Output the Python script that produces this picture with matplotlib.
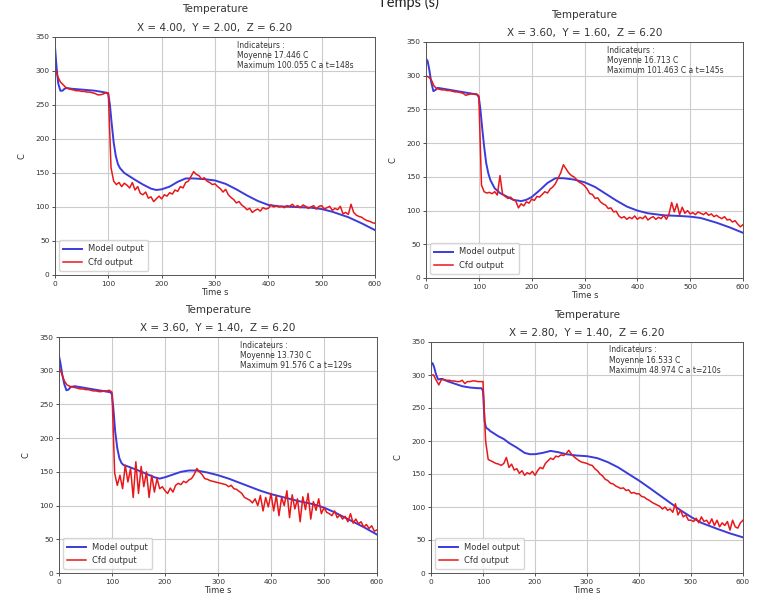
import matplotlib
matplotlib.use("Agg")

import matplotlib.pyplot as plt
import numpy as np


# -----------------------------
# Data
# -----------------------------
# model output sampling instants (s)
model_t = [0, 3, 6, 10, 14, 18, 22, 30, 45, 60,
           75, 90, 97, 100, 103, 106, 110, 114, 118, 122,
           130, 140, 150, 165, 180, 190, 200, 215, 230, 245,
           260, 280, 300, 320, 340, 360, 380, 400, 420, 450,
           480, 500, 520, 550, 575, 600]

# cfd output sampled every 5 s
cfd_t = np.arange(0, 601, 5)

model_1 = [335, 305, 282, 271, 271, 274, 275, 274, 273, 272,
           271, 269, 268, 266, 250, 225, 195, 175, 163, 157,
           150, 145, 140, 133, 127, 125, 126, 130, 137, 142,
           142, 141, 139, 134, 126, 117, 109, 103, 101, 100,
           99, 97, 93, 85, 76, 66]
model_2 = [325, 322, 310, 290, 277, 279, 282, 281, 279, 277,
           275, 273, 272, 268, 250, 225, 195, 170, 155, 145,
           133, 126, 122, 116, 114, 116, 120, 130, 141, 148,
           148, 146, 142, 135, 125, 115, 106, 100, 96, 93,
           92, 91, 89, 82, 75, 67]
model_3 = [322, 310, 295, 280, 271, 272, 276, 277, 275, 273,
           271, 269, 268, 265, 240, 210, 185, 170, 163, 160,
           158, 155, 152, 147, 142, 140, 142, 146, 150, 152,
           152, 149, 145, 140, 134, 128, 122, 117, 113, 107,
           102, 97, 90, 78, 68, 57]
model_4 = [315, 318, 312, 300, 293, 294, 294, 291, 287, 283,
           281, 280, 280, 276, 230, 220, 218, 215, 213, 211,
           207, 203, 197, 190, 182, 180, 180, 182, 185, 183,
           180, 178, 177, 174, 168, 160, 150, 140, 129, 112,
           95, 85, 76, 67, 60, 54]

cfd_1 = [305, 292, 284, 280, 276, 274, 273, 272, 271, 271,
         270, 270, 269, 269, 268, 267, 265, 265, 266, 268,
         268, 158, 138, 133, 136, 130, 135, 132, 128, 136,
         125, 130, 120, 118, 122, 113, 115, 108, 112, 116,
         112, 118, 116, 121, 119, 125, 123, 130, 128, 136,
         138, 145, 152, 148, 146, 141, 143, 138, 136, 133,
         134, 130, 127, 122, 126, 118, 114, 111, 106, 108,
         103, 100, 96, 98, 92, 95, 97, 94, 99, 97,
         98, 103, 100, 102, 100, 101, 99, 102, 101, 104,
         100, 102, 99, 103, 101, 98, 100, 102, 97, 101,
         102, 97, 99, 101, 95, 98, 96, 101, 90, 92,
         89, 104, 92, 88, 86, 85, 82, 80, 79, 77,
         76]
cfd_2 = [300, 298, 294, 285, 281, 280, 279, 279, 278, 278,
         277, 276, 276, 275, 274, 271, 272, 273, 273, 273,
         270, 138, 128, 126, 127, 125, 128, 123, 152, 124,
         121, 118, 120, 116, 114, 104, 110, 107, 113, 111,
         117, 115, 121, 120, 124, 128, 126, 132, 135, 140,
         148, 156, 168, 162, 156, 152, 150, 146, 142, 140,
         137, 132, 125, 124, 118, 119, 113, 110, 108, 103,
         104, 98, 99, 92, 89, 91, 87, 90, 88, 92,
         87, 90, 88, 92, 86, 89, 91, 87, 90, 88,
         93, 87, 95, 112, 98, 110, 94, 105, 96, 100,
         95, 97, 94, 98, 96, 94, 97, 93, 95, 91,
         93, 90, 88, 91, 86, 87, 83, 85, 80, 76,
         79]
cfd_3 = [305, 296, 285, 279, 277, 276, 275, 274, 273, 273,
         272, 272, 271, 270, 270, 269, 269, 270, 270, 271,
         268, 148, 130, 145, 125, 160, 135, 155, 112, 165,
         118, 158, 128, 150, 112, 145, 120, 140, 125, 128,
         122, 118, 126, 120, 130, 133, 131, 136, 134, 138,
         140, 146, 155, 150, 146, 140, 139, 137, 136, 135,
         134, 133, 132, 131, 128, 130, 125, 124, 121, 118,
         112, 110, 108, 104, 110, 100, 115, 92, 112, 98,
         118, 92, 115, 85, 112, 100, 122, 82, 116, 95,
         110, 76, 113, 94, 118, 80, 106, 93, 110, 88,
         97, 90, 88, 85, 92, 82, 86, 80, 84, 76,
         88, 74, 80, 73, 76, 68, 72, 66, 70, 62,
         64]
cfd_4 = [300, 300, 292, 285, 293, 293, 292, 292, 291, 291,
         290, 290, 292, 287, 290, 290, 291, 291, 290, 290,
         290, 200, 172, 170, 168, 166, 165, 163, 166, 175,
         160, 165, 156, 158, 151, 155, 148, 152, 150, 154,
         148, 155, 160, 158, 166, 170, 174, 172, 177, 176,
         179, 178, 181, 186, 180, 176, 173, 170, 168, 167,
         166, 164, 163, 158, 155, 150, 147, 142, 140, 136,
         135, 132, 130, 128, 129, 125, 126, 121, 122, 120,
         120, 116, 115, 112, 110, 107, 105, 103, 101, 97,
         100, 95, 97, 92, 105, 88, 95, 85, 88, 80,
         80, 78, 83, 76, 85, 78, 80, 74, 82, 72,
         80, 70, 76, 72, 78, 65, 80, 70, 68, 76,
         80]

positions = ["X = 4.00,  Y = 2.00,  Z = 6.20",
             "X = 3.60,  Y = 1.60,  Z = 6.20",
             "X = 3.60,  Y = 1.40,  Z = 6.20",
             "X = 2.80,  Y = 1.40,  Z = 6.20"]

indicators = ["Indicateurs :\nMoyenne 17.446 C\nMaximum 100.055 C a t=148s",
              "Indicateurs :\nMoyenne 16.713 C\nMaximum 101.463 C a t=145s",
              "Indicateurs :\nMoyenne 13.730 C\nMaximum 91.576 C a t=129s",
              "Indicateurs :\nMoyenne 16.533 C\nMaximum 48.974 C a t=210s"]

models = [model_1, model_2, model_3, model_4]
cfds = [cfd_1, cfd_2, cfd_3, cfd_4]

# axes boxes in pixels: left, right, top, bottom (image is 759x600)
boxes = [(55, 375, 37, 275),
         (426, 743, 42, 278),
         (59, 377, 337, 573),
         (431, 743, 342, 573)]

W, H = 759, 600
BLUE = "#3b3bdc"
RED = "#e8181a"
TXT = "#333333"


def draw_panel(fig, box, model, cfd, pos, ind):
    l, r, t, b = box
    ax = fig.add_axes([l / W, 1 - b / H, (r - l) / W, (b - t) / H])
    ax.plot(model_t, model, color=BLUE, linewidth=1.4, label="Model output")
    ax.plot(cfd_t, cfd, color=RED, linewidth=1.1, label="Cfd output")
    ax.set_xlim(0, 600)
    ax.set_ylim(0, 350)
    ax.set_xticks(range(0, 601, 100))
    ax.set_yticks(range(0, 351, 50))
    ax.grid(True, color="#cccccc", linewidth=0.8)
    ax.set_axisbelow(True)
    ax.tick_params(labelsize=5.3, colors=TXT, length=2.5, width=0.6, pad=1.5)
    for s in ax.spines.values():
        s.set_color("#555555")
        s.set_linewidth(0.7)
    ax.set_ylabel("C", fontsize=6, color=TXT, labelpad=6)
    ax.set_xlabel("Time s", fontsize=6, color=TXT, labelpad=1)
    ax.set_title(pos, fontsize=7.5, color=TXT, pad=4)
    ax.text(0.5, 1.095, "Temperature", transform=ax.transAxes,
            ha="center", va="bottom", fontsize=7.5, color=TXT)
    ax.text(0.57, 0.985, ind, transform=ax.transAxes, ha="left", va="top",
            fontsize=5.5, color=TXT, linespacing=1.15)
    leg = ax.legend(loc="lower left", fontsize=6, handlelength=2.2,
                    borderpad=0.5, labelspacing=0.5, fancybox=True)
    leg.get_frame().set_edgecolor("#cccccc")
    for txt in leg.get_texts():
        txt.set_color(TXT)
    return ax


def main():
    fig = plt.figure(figsize=(W / 100, H / 100), dpi=100)
    for box, model, cfd, pos, ind in zip(boxes, models, cfds, positions, indicators):
        draw_panel(fig, box, model, cfd, pos, ind)

    # caption from the source document, partly cut at the top as in the reference
    fig.text(408 / W, 1 - 7 / H, "Temps (s)", ha="center", va="baseline",
             fontsize=10.5, color="#222222", family="Lato")

    fig.savefig("out.png", dpi=100)
    plt.close(fig)


if __name__ == "__main__":
    main()
